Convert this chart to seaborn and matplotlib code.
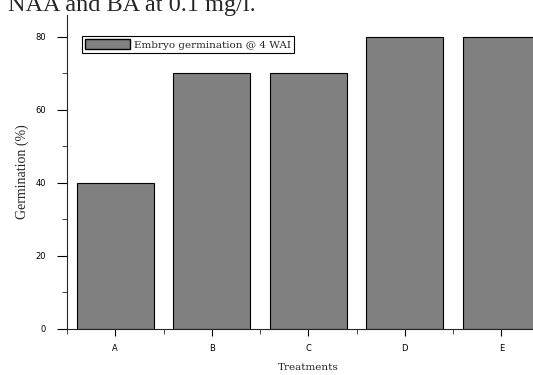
import matplotlib
matplotlib.use("Agg")
import matplotlib.pyplot as plt
import seaborn as sns
import pandas as pd
from matplotlib.patches import Patch
from matplotlib.ticker import MultipleLocator, FixedLocator

categories = ["A", "B", "C", "D", "E"]
germination = [40, 70, 70, 80, 80]
legend_label = "Embryo germination @ 4 WAI"

sns.set_style("ticks")
df = pd.DataFrame({"Treatments": categories, "Germination": germination})

fig = plt.figure(figsize=(5.33, 3.75), dpi=100)
ax = fig.add_axes([67/533, 46/375, 482.5/533, 314/375])

sns.barplot(data=df, x="Treatments", y="Germination", color="#808080",
            edgecolor="black", linewidth=0.8, width=0.8, saturation=1, ax=ax)
for p in ax.patches:
    p.set_facecolor("#808080")

ax.set_xlim(-0.5, 4.5)
ax.set_ylim(0, 86)
ax.yaxis.set_major_locator(MultipleLocator(20))
ax.yaxis.set_minor_locator(MultipleLocator(10))
ax.xaxis.set_minor_locator(FixedLocator([-0.5, 0.5, 1.5, 2.5, 3.5]))
ax.tick_params(axis="y", which="major", direction="out", length=7, width=0.8,
               labelsize=6, colors="black", pad=8)
ax.tick_params(axis="x", which="major", direction="out", length=5, width=0.8,
               labelsize=6, colors="black", pad=6)
ax.tick_params(axis="both", which="minor", direction="out", length=3.5, width=0.6)
for s in ["top", "right"]:
    ax.spines[s].set_visible(False)
for s in ["left", "bottom"]:
    ax.spines[s].set_linewidth(0.8)

ax.set_xlabel("Treatments", family="DejaVu Serif", fontsize=7.5, labelpad=7)
ax.set_ylabel("Germination (%)", family="Liberation Serif", fontsize=10, labelpad=5)

handle = Patch(facecolor="#808080", edgecolor="black", linewidth=1.0)
leg = ax.legend([handle], [legend_label], loc="upper left",
                bbox_to_anchor=(0.031, 0.932), borderaxespad=0, frameon=True,
                fancybox=False, edgecolor="black", framealpha=1, borderpad=0.3,
                handlelength=4.3, handleheight=1.1, handletextpad=0.35,
                prop={"family": "DejaVu Serif", "size": 7.5})
leg.get_frame().set_linewidth(0.8)

fig.text(8/533, 1 - 11/375, "NAA and BA at 0.1 mg/l.", family="Liberation Serif",
         fontsize=17.5, va="baseline", ha="left")

fig.savefig("out.png", dpi=100)
